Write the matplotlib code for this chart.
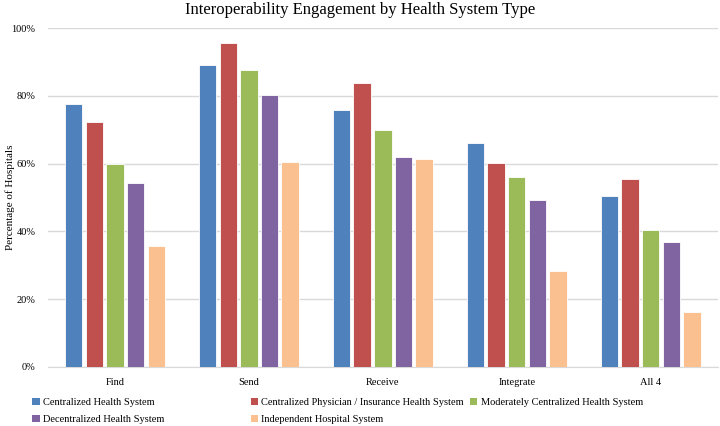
import numpy as np
import matplotlib

matplotlib.use("Agg")
import matplotlib.pyplot as plt
from matplotlib.patches import Patch
from matplotlib.ticker import PercentFormatter

categories = ["Find", "Send", "Receive", "Integrate", "All 4"]
series_names = [
    "Centralized Health System",
    "Centralized Physician / Insurance Health System",
    "Moderately Centralized Health System",
    "Decentralized Health System",
    "Independent Hospital System",
]
centralized = [77.6, 89.1, 75.8, 66.1, 50.5]
centralized_phys = [72.3, 95.7, 83.7, 60.2, 55.4]
moderately = [60.0, 87.6, 69.9, 56.0, 40.3]
decentralized = [54.4, 80.4, 62.1, 49.2, 37.0]
independent = [35.8, 60.5, 61.4, 28.3, 16.3]
series = [centralized, centralized_phys, moderately, decentralized, independent]
colors = ["#4F81BD", "#C0504D", "#9BBB59", "#8064A2", "#FAC090"]

plt.rcParams["font.family"] = ["Liberation Serif", "DejaVu Serif"]

fig = plt.figure(figsize=(7.2, 4.26), dpi=100)
ax = fig.add_axes([0.0667, 0.1385, 0.93, 0.7955])

x = np.arange(len(categories))
pitch = 0.154
width = 0.13
for i, (vals, col) in enumerate(zip(series, colors)):
    ax.bar(x + (i - 2) * pitch, np.array(vals) / 100, width, color=col,
           edgecolor="white", linewidth=0.6, zorder=3)

ax.set_xlim(-0.5, len(categories) - 0.5)
ax.set_ylim(0, 1)
ax.set_yticks(np.arange(0, 1.01, 0.2))
ax.yaxis.set_major_formatter(PercentFormatter(1.0, decimals=0))
ax.set_xticks(x)
ax.set_xticklabels(categories)
ax.tick_params(axis="both", length=0, labelsize=7.5, colors="#000000")
ax.tick_params(axis="y", pad=9)
ax.tick_params(axis="x", pad=8)
ax.grid(axis="y", color="#D9D9D9", lw=1, zorder=0)
for s in ("top", "right", "left"):
    ax.spines[s].set_visible(False)
ax.spines["bottom"].set_color("#D9D9D9")
ax.set_ylabel("Percentage of Hospitals", fontsize=8)
ax.yaxis.set_label_coords(-0.05, 0.5)

fig.suptitle("Interoperability Engagement by Health System Type",
             fontsize=12, y=0.995)

# legend: three columns placed like the original
handles = [Patch(facecolor=c, edgecolor="none") for c in colors]
columns = [([0, 3], 0.045), ([1, 4], 0.348), ([2], 0.653)]
for idx, xpos in columns:
    fig.legend([handles[k] for k in idx], [series_names[k] for k in idx],
               loc="upper left", bbox_to_anchor=(xpos, 0.066),
               frameon=False, fontsize=7.5, handlelength=0.7,
               handleheight=0.7, handletextpad=0.3, labelspacing=0.75,
               borderpad=0, borderaxespad=0)

fig.savefig("out.png", dpi=100)
